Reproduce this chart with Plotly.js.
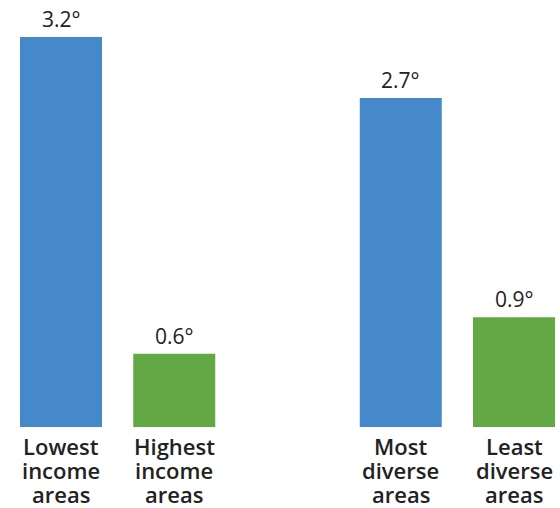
<!DOCTYPE html>
<html>
<head>
<meta charset="utf-8">
<script src="https://cdn.plot.ly/plotly-3.0.1.min.js"></script>
<style>html,body{margin:0;padding:0;background:#fff;}#chart{width:560px;height:508px;}</style>
</head>
<body>
<div id="chart"></div>
<script>
// Data
var categories = ["Lowest income areas", "Highest income areas", "gap", "Most diverse areas", "Least diverse areas"];
var labelLines = [["Lowest", "income", "areas"], ["Highest", "income", "areas"], [], ["Most", "diverse", "areas"], ["Least", "diverse", "areas"]];
var values = [3.2, 0.6, null, 2.7, 0.9];
var valueLabels = ["3.2°", "0.6°", "", "2.7°", "0.9°"];
var groupColors = ["#4589CB", "#62A844", "#ffffff", "#4589CB", "#62A844"];

var xIdx = categories.map(function (c, i) { return i; });

var trace = {
  type: "bar",
  x: xIdx,
  y: values,
  width: 0.724,
  marker: { color: groupColors, line: { width: 0 } },
  hoverinfo: "skip"
};

var annotations = [];
var textColor = "#222222";
for (var i = 0; i < categories.length; i++) {
  if (values[i] === null) continue;
  annotations.push({
    x: xIdx[i], y: values[i], xref: "x", yref: "y",
    text: valueLabels[i], showarrow: false,
    xanchor: "center", yanchor: "bottom", yshift: 2,
    font: { family: "Open Sans", size: 21, color: textColor }
  });
  for (var j = 0; j < labelLines[i].length; j++) {
    annotations.push({
      x: xIdx[i], y: 0, xref: "x", yref: "y",
      text: labelLines[i][j], showarrow: false,
      xanchor: "center", yanchor: "top", yshift: -2 - j * 24,
      font: { family: "Open Sans", size: 22, color: textColor, weight: 600 }
    });
  }
}

var layout = {
  width: 560, height: 508,
  margin: { l: 0, r: 0, t: 0, b: 81, pad: 0 },
  paper_bgcolor: "#ffffff", plot_bgcolor: "#ffffff",
  showlegend: false,
  xaxis: { range: [-0.5386, 4.406], showgrid: false, zeroline: false, showticklabels: false, ticks: "", showline: false, fixedrange: true },
  yaxis: { range: [0, 3.503], showgrid: false, zeroline: false, showticklabels: false, ticks: "", showline: false, fixedrange: true },
  annotations: annotations
};

Plotly.newPlot("chart", [trace], layout, { displayModeBar: false, staticPlot: true });
</script>
</body>
</html>
